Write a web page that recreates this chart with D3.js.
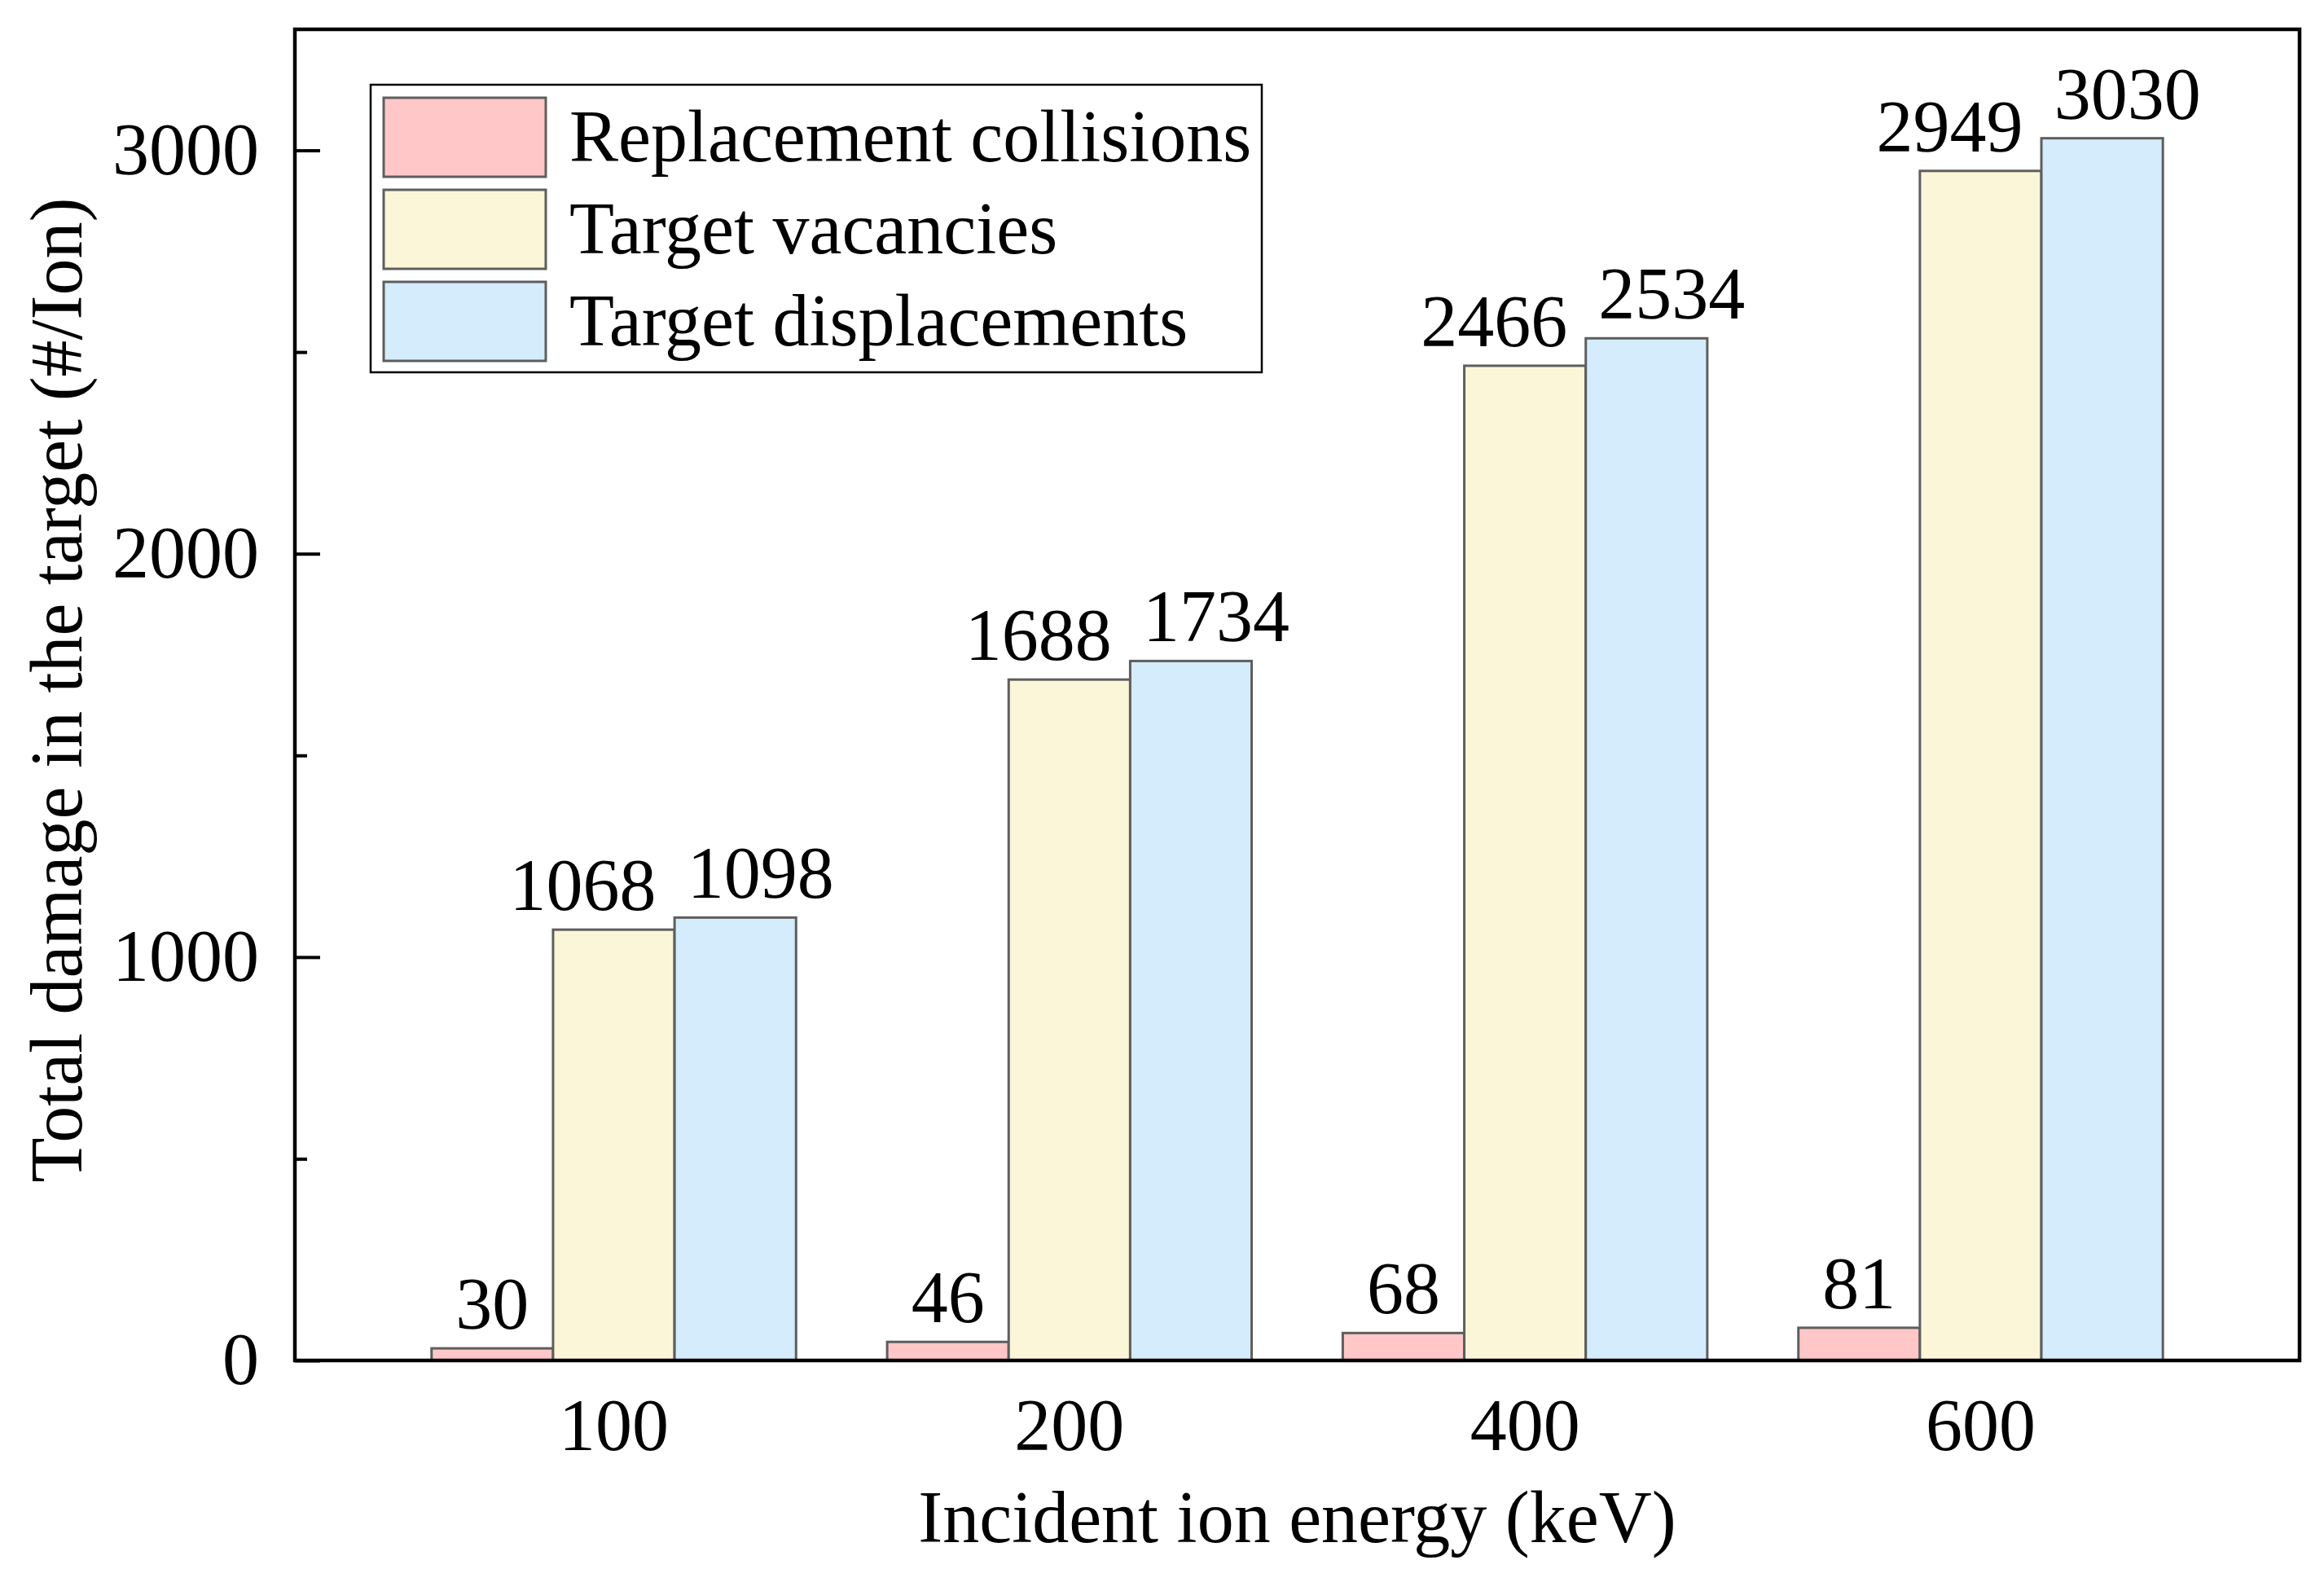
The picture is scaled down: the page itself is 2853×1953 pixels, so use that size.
<!DOCTYPE html>
<html>
<head>
<meta charset="utf-8">
<script src="https://cdn.jsdelivr.net/npm/d3@7"></script>
<style>
  body { margin: 0; background: #fff; }
  text { font-family: "Liberation Serif", "Times New Roman", serif; fill: #000; }
</style>
</head>
<body>
<script>
// Chart data
var energies = ["100", "200", "400", "600"];
var seriesNames = ["Replacement collisions", "Target vacancies", "Target displacements"];
var replacementCollisions = [30, 46, 68, 81];
var targetVacancies = [1068, 1688, 2466, 2949];
var targetDisplacements = [1098, 1734, 2534, 3030];
var yMajorTicks = [0, 1000, 2000, 3000];
var yMinorTicks = [500, 1500, 2500];

var seriesValues = [replacementCollisions, targetVacancies, targetDisplacements];
var seriesColors = ["#ffc7c7", "#fbf6d8", "#d4ecfb"];
// value labels are nudged sideways for the two tall bars, as in the original
var labelShift = [0, -38, 31];

var svgWidth = 2853;
var svgHeight = 1953;

var plot = { left: 362, right: 2823, top: 36, bottom: 1670 };

var svg = d3.select("body")
  .append("svg")
  .attr("width", svgWidth)
  .attr("height", svgHeight);

// Scales
var xScale = d3.scaleBand()
  .domain(energies)
  .range([plot.left, plot.right])
  .paddingInner(0.2)
  .paddingOuter(0.3);

var xSub = d3.scaleBand()
  .domain(d3.range(seriesNames.length))
  .range([0, xScale.bandwidth()]);

var yScale = d3.scaleLinear()
  .domain([0, 3300])
  .range([plot.bottom, plot.top]);

// Flatten into one row per bar
var bars = [];
energies.forEach(function(e, i) {
  seriesValues.forEach(function(vals, s) {
    bars.push({ energy: e, series: s, value: vals[i] });
  });
});

// Bars
svg.selectAll(".bar")
  .data(bars)
  .enter()
  .append("rect")
  .attr("class", "bar")
  .attr("x", d => xScale(d.energy) + xSub(d.series))
  .attr("y", d => yScale(d.value))
  .attr("width", xSub.bandwidth())
  .attr("height", d => yScale(0) - yScale(d.value))
  .attr("fill", d => seriesColors[d.series])
  .attr("stroke", "#5e5e5e")
  .attr("stroke-width", 3);

// Value labels
svg.selectAll(".val")
  .data(bars)
  .enter()
  .append("text")
  .attr("class", "val")
  .attr("x", d => xScale(d.energy) + xSub(d.series) + xSub.bandwidth() / 2 + labelShift[d.series])
  .attr("y", d => yScale(d.value) - 24)
  .attr("text-anchor", "middle")
  .style("font-size", "90px")
  .text(d => d.value);

// Y axis (ticks pointing inward)
var leftAxis = d3.axisLeft(yScale)
  .tickValues(yMajorTicks)
  .tickSize(-31)
  .tickPadding(44)
  .tickFormat(d3.format("d"));

var yAxisG = svg.append("g")
  .attr("transform", `translate(${plot.left}, 0)`)
  .call(leftAxis);
yAxisG.select(".domain").remove();
yAxisG.selectAll("line").attr("stroke", "#000").attr("stroke-width", 4);
yAxisG.selectAll("text")
  .style("font-size", "90px")
  .style("font-family", "'Liberation Serif', 'Times New Roman', serif");

var minorAxis = d3.axisLeft(yScale)
  .tickValues(yMinorTicks)
  .tickSize(-15)
  .tickFormat("");

var yMinorG = svg.append("g")
  .attr("transform", `translate(${plot.left}, 0)`)
  .call(minorAxis);
yMinorG.select(".domain").remove();
yMinorG.selectAll("line").attr("stroke", "#000").attr("stroke-width", 4);

// X axis
var bottomAxis = d3.axisBottom(xScale)
  .tickSize(0)
  .tickPadding(46);

var xAxisG = svg.append("g")
  .attr("transform", `translate(0, ${plot.bottom})`)
  .call(bottomAxis);
xAxisG.select(".domain").remove();
xAxisG.selectAll("text")
  .style("font-size", "90px")
  .style("font-family", "'Liberation Serif', 'Times New Roman', serif");

// Frame
svg.append("rect")
  .attr("x", plot.left)
  .attr("y", plot.top)
  .attr("width", plot.right - plot.left)
  .attr("height", plot.bottom - plot.top)
  .attr("fill", "none")
  .attr("stroke", "#000")
  .attr("stroke-width", 4.5);

// Axis titles
svg.append("text")
  .attr("x", (plot.left + plot.right) / 2)
  .attr("y", 1893)
  .attr("text-anchor", "middle")
  .style("font-size", "90px")
  .text("Incident ion energy (keV)");

svg.append("text")
  .attr("transform", `translate(100, ${(plot.top + plot.bottom) / 2 - 6}) rotate(-90)`)
  .attr("text-anchor", "middle")
  .style("font-size", "90px")
  .text("Total damage in the target (#/Ion)");

// Legend
var legend = svg.append("g");

legend.append("rect")
  .attr("x", 455)
  .attr("y", 104)
  .attr("width", 1094)
  .attr("height", 353)
  .attr("fill", "#fff")
  .attr("stroke", "#000")
  .attr("stroke-width", 2.5);

var legendItems = legend.selectAll(".item")
  .data(seriesNames)
  .enter()
  .append("g")
  .attr("class", "item")
  .attr("transform", (d, i) => `translate(471, ${120 + i * 113})`);

legendItems.append("rect")
  .attr("width", 199)
  .attr("height", 97)
  .attr("fill", (d, i) => seriesColors[i])
  .attr("stroke", "#5e5e5e")
  .attr("stroke-width", 3);

legendItems.append("text")
  .attr("x", 228)
  .attr("y", 78)
  .style("font-size", "90px")
  .text(d => d);
</script>
</body>
</html>
